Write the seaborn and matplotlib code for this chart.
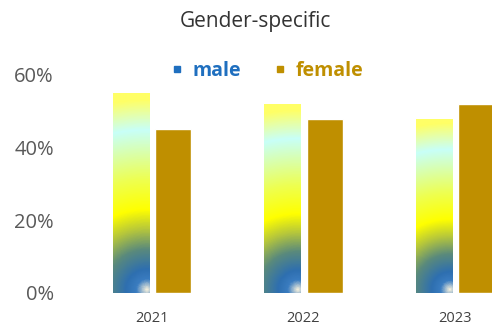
import numpy as np
import pandas as pd
import matplotlib
matplotlib.use("Agg")
import matplotlib.pyplot as plt
from matplotlib.colors import LinearSegmentedColormap
from matplotlib.lines import Line2D
import seaborn as sns

years = ["2021", "2022", "2023"]
male = [0.55, 0.52, 0.48]
female = [0.45, 0.48, 0.52]
series = ["male", "female"]
yticks = [0.0, 0.2, 0.4, 0.6]
ytick_labels = ["0%", "20%", "40%", "60%"]

MALE_COLOR = "#1F6FBF"
FEMALE_COLOR = "#BF8F00"

df = pd.DataFrame({
    "year": years * 2,
    "gender": ["male"] * len(years) + ["female"] * len(years),
    "share": male + female,
})

sns.set_theme(style="white")
plt.rcParams["font.family"] = ["Open Sans", "DejaVu Sans"]

fig = plt.figure(figsize=(4.92, 3.25), dpi=100)
ax = fig.add_axes([0.1545, 0.0985, 0.8455, 0.6708])

sns.barplot(data=df, x="year", y="share", hue="gender", hue_order=series,
            palette={"male": MALE_COLOR, "female": FEMALE_COLOR},
            width=0.56, gap=0.15, legend=False, ax=ax, saturation=1)

ax.set_xlim(-0.5, 2.244)
ax.set_ylim(0, 0.6)
ax.set_yticks(yticks)
ax.set_yticklabels(ytick_labels, fontsize=14.5, color="#595959")
ax.tick_params(axis="y", length=0, pad=16)
ax.tick_params(axis="x", length=0, pad=13, labelsize=10.5, labelcolor="#404040")
ax.set_xlabel("")
ax.set_ylabel("")
for s in ax.spines.values():
    s.set_visible(False)

# radial fill for the male bars, centred near the lower right corner
grad_cmap = LinearSegmentedColormap.from_list("male_fill", [
    (0.00, "#F2EEDC"),
    (0.05, "#3A7CC0"),
    (0.10, "#2E6FB0"),
    (0.20, "#5A8A7C"),
    (0.30, "#B5C63C"),
    (0.40, "#FFFF00"),
    (0.55, "#EEFF50"),
    (0.80, "#C8FFF8"),
    (0.95, "#FFFF66"),
    (1.00, "#FFFF66"),
])

fig.canvas.draw()
male_patches = ax.patches[:len(years)]
for p in male_patches:
    x0, y0 = p.get_x(), p.get_y()
    w, h = p.get_width(), p.get_height()
    (px0, py0), (px1, py1) = ax.transData.transform([(x0, y0), (x0 + w, y0 + h)])
    wpx, hpx = px1 - px0, py1 - py0
    ny = int(round(hpx))
    nx = int(round(wpx))
    yy, xx = np.mgrid[0:ny, 0:nx]
    yy = ny - 1 - yy  # row 0 at top
    cx, cy = 0.9 * wpx, 3.0
    r = np.sqrt((xx - cx) ** 2 + (yy - cy) ** 2) / hpx
    img = grad_cmap(np.clip(r, 0, 1))
    im = ax.imshow(img, extent=(x0, x0 + w, y0, y0 + h), aspect="auto",
                   interpolation="bilinear", zorder=p.get_zorder() + 0.1)
    im.set_clip_path(p)
    p.set_facecolor("none")
    p.set_edgecolor("none")

ax.set_xlim(-0.5, 2.244)
ax.set_ylim(0, 0.6)

handles = [Line2D([], [], marker="s", linestyle="none", markersize=5,
                  color=c) for c in (MALE_COLOR, FEMALE_COLOR)]
leg = ax.legend(handles, series, loc="center", bbox_to_anchor=(0.459, 1.02),
                ncol=2, frameon=False, handlelength=0.6, handletextpad=0.5,
                columnspacing=1.7, prop={"weight": "bold", "size": 14})
for txt, c in zip(leg.get_texts(), (MALE_COLOR, FEMALE_COLOR)):
    txt.set_color(c)

fig.text(0.52, 0.935, "Gender-specific", ha="center", va="center",
         fontsize=15, color="#333333")

fig.savefig("out.png", dpi=100)
